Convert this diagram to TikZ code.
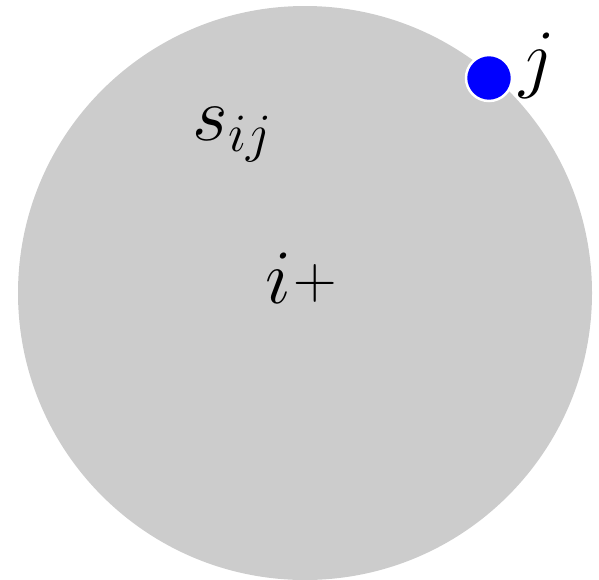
\documentclass[tikz,border=0pt]{standalone}
\usepackage{fix-cm}
\usepackage{graphicx}
\definecolor{discgray}{RGB}{204,204,204}
\tikzset{
  disc/.style={fill=discgray, draw=none},
  vertexdot/.style={circle, fill=blue, draw=white, line width=2.5pt, minimum size=46pt, inner sep=0pt},
  biglabel/.style={inner sep=0pt, font=\fontsize{77}{90}\selectfont}
}
\begin{document}
\begin{tikzpicture}[x=1pt,y=-1pt]
\useasboundingbox (0,0) rectangle (599,579);
\fill[disc] (305,293) circle (287);
\node[vertexdot] (j) at (489,78) {};
\node[biglabel, anchor=base] (jlabel) at (537,83) {$j$};
\node[biglabel, anchor=base] (sij) at (232,140) {$s_{ij}$};
\node[biglabel, anchor=base] (iplus) at (301,303) {$i$\hspace{2pt}\raisebox{4.5pt}{\scalebox{1.12}{$\scriptstyle+$}}};
\end{tikzpicture}
\end{document}
